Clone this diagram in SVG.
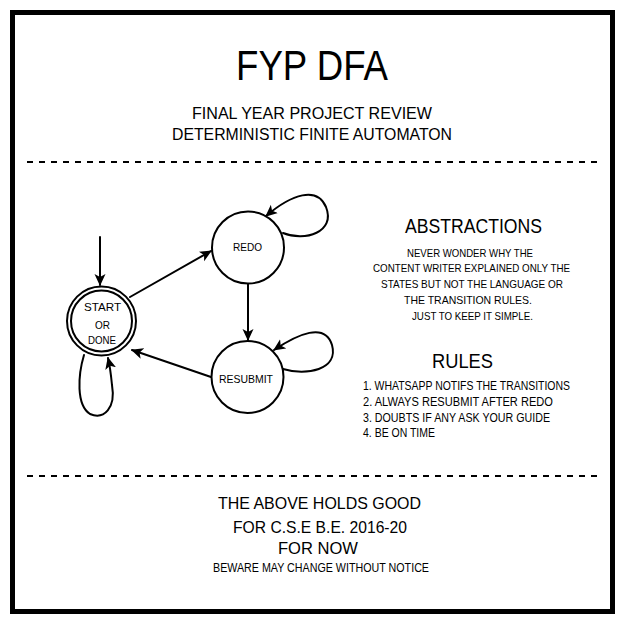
<svg xmlns="http://www.w3.org/2000/svg" width="625" height="625" viewBox="0 0 625 625">
  <defs>
    <style>
      text { font-family: "Liberation Sans", "DejaVu Sans", sans-serif; fill: #000; }
      .state { fill: #fff; stroke: #000; stroke-width: 2; }
      .edge { fill: none; stroke: #000; stroke-width: 2; stroke-linecap: round; marker-end: url(#arrow); }
      .rule { fill: none; stroke: #000; stroke-width: 2; stroke-dasharray: 6 6; }
      .mid { text-anchor: middle; }
      .lbl { font-size: 11px; text-anchor: middle; }
    </style>
    <marker id="arrow" viewBox="0 0 12 12" refX="11" refY="6" markerWidth="12" markerHeight="12" markerUnits="userSpaceOnUse" orient="auto">
      <path d="M0,0.5 L12,6 L0,11.5 L3,6 Z" fill="#000"/>
    </marker>
  </defs>

  <rect x="0" y="0" width="625" height="625" fill="#fff"/>
  <!-- outer frame -->
  <rect x="12.5" y="12.5" width="600" height="599" fill="none" stroke="#000" stroke-width="5"/>

  <!-- header -->
  <text x="312" y="80" class="mid" font-size="42" textLength="152" lengthAdjust="spacingAndGlyphs">FYP DFA</text>
  <text x="312" y="119" class="mid" font-size="16" textLength="240" lengthAdjust="spacingAndGlyphs">FINAL YEAR PROJECT REVIEW</text>
  <text x="312" y="140" class="mid" font-size="16" textLength="280" lengthAdjust="spacingAndGlyphs">DETERMINISTIC FINITE AUTOMATON</text>

  <line class="rule" x1="27" y1="162" x2="600" y2="162"/>
  <line class="rule" x1="27" y1="476" x2="600" y2="476"/>

  <!-- transitions -->
  <g id="connectors">
    <line class="edge" x1="100" y1="237" x2="100" y2="285"/>
    <line class="edge" x1="130" y1="297" x2="211" y2="251"/>
    <line class="edge" x1="248" y1="284" x2="248" y2="340"/>
    <line class="edge" x1="211" y1="377" x2="132" y2="350"/>
    <path class="edge" d="M283,233 C305,242 336,232 326,207 C317,186 292,194 266,216"/>
    <path class="edge" d="M283,369 C306,376 339,370 332,345 C325,322 298,334 274,350"/>
    <path class="edge" d="M84,355 C78,375 76,405 90,414 C104,420 116,408 112,385 C111,375 110,366 108,358"/>
  </g>

  <!-- states -->
  <g id="start">
    <circle class="state" cx="101.5" cy="321" r="34.5"/>
    <circle class="state" cx="101.5" cy="321" r="30.5"/>
    <text x="102.5" y="311" class="lbl" textLength="37" lengthAdjust="spacingAndGlyphs">START</text>
    <text x="102.5" y="329" class="lbl" textLength="15" lengthAdjust="spacingAndGlyphs">OR</text>
    <text x="102" y="344" class="lbl" textLength="28" lengthAdjust="spacingAndGlyphs">DONE</text>
  </g>
  <g id="redo">
    <circle class="state" cx="248" cy="247.5" r="36"/>
    <text x="247.5" y="251" class="lbl" textLength="29" lengthAdjust="spacingAndGlyphs">REDO</text>
  </g>
  <g id="resubmit">
    <circle class="state" cx="247.5" cy="377" r="36"/>
    <text x="246" y="383" class="lbl" textLength="54" lengthAdjust="spacingAndGlyphs">RESUBMIT</text>
  </g>

  <!-- notes -->
  <g id="abstractions">
    <text x="473.5" y="233" class="mid" font-size="20" textLength="137" lengthAdjust="spacingAndGlyphs">ABSTRACTIONS</text>
    <text x="470" y="257" class="mid" font-size="10.5" textLength="126" lengthAdjust="spacingAndGlyphs">NEVER WONDER WHY THE</text>
    <text x="471.5" y="272" class="mid" font-size="10.5" textLength="197" lengthAdjust="spacingAndGlyphs">CONTENT WRITER EXPLAINED ONLY THE</text>
    <text x="472" y="288" class="mid" font-size="10.5" textLength="182" lengthAdjust="spacingAndGlyphs">STATES BUT NOT THE LANGUAGE OR</text>
    <text x="468" y="304" class="mid" font-size="10.5" textLength="128" lengthAdjust="spacingAndGlyphs">THE TRANSITION RULES.</text>
    <text x="472.5" y="320" class="mid" font-size="10.5" textLength="121" lengthAdjust="spacingAndGlyphs">JUST TO KEEP IT SIMPLE.</text>
  </g>
  <g id="rules">
    <text x="462.5" y="368" class="mid" font-size="20" textLength="61" lengthAdjust="spacingAndGlyphs">RULES</text>
    <text x="363" y="389.5" font-size="12.5" textLength="207" lengthAdjust="spacingAndGlyphs">1. WHATSAPP NOTIFS THE TRANSITIONS</text>
    <text x="363" y="405.5" font-size="12.5" textLength="190" lengthAdjust="spacingAndGlyphs">2. ALWAYS RESUBMIT AFTER REDO</text>
    <text x="363" y="421.5" font-size="12.5" textLength="187" lengthAdjust="spacingAndGlyphs">3. DOUBTS IF ANY ASK YOUR GUIDE</text>
    <text x="363" y="436.5" font-size="12.5" textLength="72" lengthAdjust="spacingAndGlyphs">4. BE ON TIME</text>
  </g>

  <!-- footer -->
  <g id="footer">
    <text x="319.5" y="509" class="mid" font-size="17" textLength="203" lengthAdjust="spacingAndGlyphs">THE ABOVE HOLDS GOOD</text>
    <text x="320" y="533" class="mid" font-size="17" textLength="174" lengthAdjust="spacingAndGlyphs">FOR C.S.E B.E. 2016-20</text>
    <text x="318" y="554" class="mid" font-size="17" textLength="80" lengthAdjust="spacingAndGlyphs">FOR NOW</text>
    <text x="321" y="571.5" class="mid" font-size="12" textLength="216" lengthAdjust="spacingAndGlyphs">BEWARE MAY CHANGE WITHOUT NOTICE</text>
  </g>
</svg>
